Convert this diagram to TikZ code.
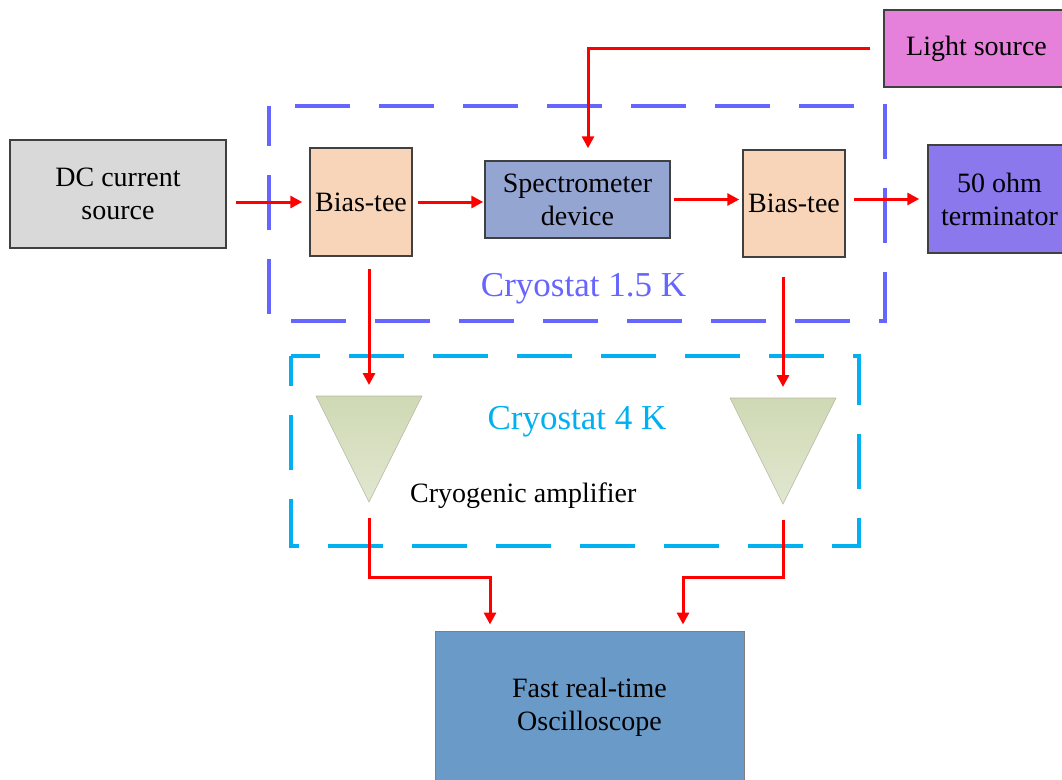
\documentclass[tikz,border=0pt]{standalone}
\usepackage{fontspec}
\setmainfont{Liberation Serif}
\usetikzlibrary{arrows.meta}

\definecolor{edgegray}{HTML}{404040}
\definecolor{boxgray}{HTML}{D9D9D9}
\definecolor{peach}{HTML}{F8D5B8}
\definecolor{specblue}{HTML}{95A5D2}
\definecolor{termviolet}{HTML}{8B78EC}
\definecolor{lightpink}{HTML}{E580DB}
\definecolor{oscblue}{HTML}{6A9BC8}
\definecolor{oscedge}{HTML}{7F7F7F}
\definecolor{cryoA}{HTML}{6666FF}
\definecolor{cryoB}{HTML}{00B0F0}
\definecolor{ampa}{HTML}{CFD9B4}
\definecolor{ampb}{HTML}{E2E7D0}
\definecolor{ampedge}{HTML}{B4B9A0}

\tikzset{
  blk/.style={draw=edgegray, line width=1.5pt, inner sep=0pt, align=center,
    font=\fontsize{28}{33}\selectfont},
  wire/.style={red, line width=3pt, -{Triangle[length=12pt,width=12pt]}},
  cryo/.style={line width=3.3pt, dash pattern=on 55pt off 29pt},
  amp/.style={draw=ampedge, line width=0.6pt, top color=ampa, bottom color=ampb},
}

\begin{document}
\begin{tikzpicture}[x=1pt,y=-1pt]
\useasboundingbox (0,0) rectangle (1062,779);

% cryostat stages
\draw[cryo, draw=cryoA, dash phase=15pt] (269,106) rectangle (885,321);
\draw[cryo, draw=cryoB, dash phase=25pt] (291,356) rectangle (859,546);

\node[blk, fill=boxgray, minimum width=216pt, minimum height=108pt] (dc) at (118,194) {DC current\\source};
\node[blk, fill=peach, minimum width=102pt, minimum height=108pt] (bt1) at (361,202) {Bias-tee};
\node[blk, fill=specblue, minimum width=185pt, minimum height=77pt] (spec) at (577.5,199.5) {Spectrometer\\device};
\node[blk, fill=peach, minimum width=102pt, minimum height=107pt] (bt2) at (794,203.5) {Bias-tee};
\node[blk, fill=termviolet, minimum width=143pt, minimum height=108pt] (term) at (999.5,199) {50 ohm\\terminator};
\node[blk, fill=lightpink, minimum width=185pt, minimum height=77pt] (light) at (976.5,48.5) {Light source};
\node[blk, fill=oscblue, draw=oscedge, line width=1pt, minimum width=309pt, minimum height=152pt] (osc) at (589.5,707) {Fast real-time\\Oscilloscope};

% amplifiers
\coordinate (amp1in) at (369,396);
\coordinate (amp1out) at (369,502);
\coordinate (amp2in) at (783,398);
\coordinate (amp2out) at (783,504);
\path[amp] (amp1in) ++(-53,0) -- ++(106,0) -- (amp1out) -- cycle;
\path[amp] (amp2in) ++(-53,0) -- ++(106,0) -- (amp2out) -- cycle;

\node[text=cryoA, font=\fontsize{35}{40}\selectfont, anchor=base] (lab15) at (583.5,296) {Cryostat 1.5 K};
\node[text=cryoB, font=\fontsize{35}{40}\selectfont, anchor=base] (lab4) at (577,429) {Cryostat 4 K};
\node[font=\fontsize{28}{33}\selectfont, anchor=base west, inner sep=0pt] (lamp) at (410,502) {Cryogenic amplifier};

% signal path
\draw[wire, shorten <=9pt, shorten >=7pt] (dc.east |- bt1.west) -- (bt1.west);
\draw[wire, shorten <=5pt, shorten >=1pt] (bt1.east) -- (bt1.east -| spec.west);
\draw[wire, shorten <=3pt, shorten >=3pt] (spec.east) -- (spec.east -| bt2.west);
\draw[wire, shorten <=8pt, shorten >=8pt] (term.west -| bt2.east) -- (term.west);
\draw[wire, shorten <=13pt, shorten >=12pt] (light.west) -| ([xshift=10.5pt]spec.north);
\draw[wire, shorten <=12pt, shorten >=11pt] (bt1.south -| amp1in) -- (amp1in);
\draw[wire, shorten <=19pt, shorten >=11pt] (bt2.south -| amp2in) -- (amp2in);
\draw[wire, shorten <=16pt, shorten >=6pt] (amp1out) -- ++(0,75) -| ([xshift=-99.5pt]osc.north);
\draw[wire, shorten <=16pt, shorten >=6pt] (amp2out) -- ++(0,73) -| ([xshift=93.5pt]osc.north);
\end{tikzpicture}
\end{document}
